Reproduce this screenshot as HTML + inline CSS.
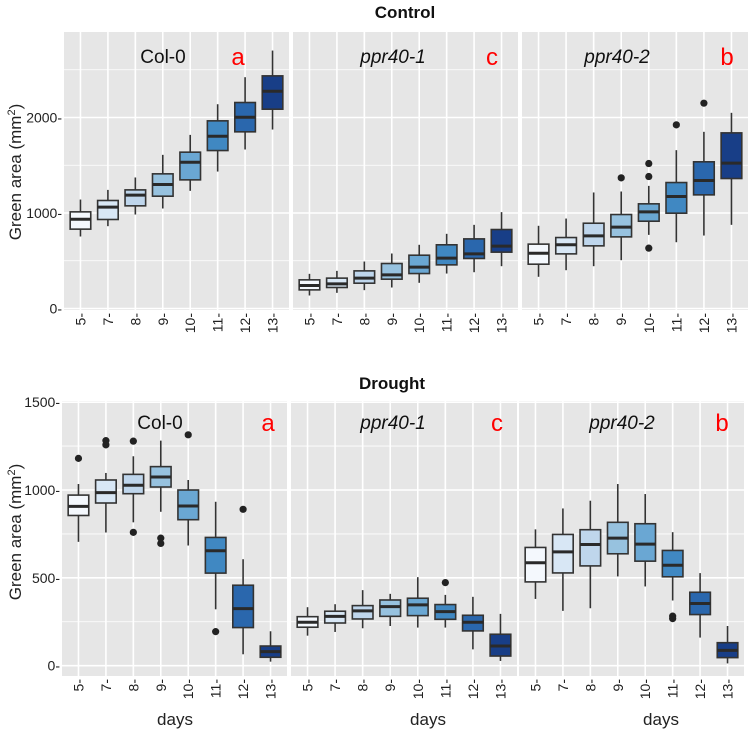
<!DOCTYPE html>
<html><head><meta charset="utf-8"><style>
html,body{margin:0;padding:0;background:#fff;}
svg{display:block;font-family:"Liberation Sans",Arial,sans-serif;}
</style></head><body>
<svg id="chart" width="749" height="732" viewBox="0 0 749 732" xmlns="http://www.w3.org/2000/svg"></svg>
<script>
// ---- data ----
const days = ['5','7','8','9','10','11','12','13'];
// each entry: [lower whisker, Q1, median, Q3, upper whisker]
const ctrlCol0 = [[754,831,935,1012,1141],[862,932,1061,1131,1242],[984,1075,1187,1242,1372],[1047,1176,1298,1410,1609],[1232,1347,1532,1637,1818],[1434,1654,1804,1965,2139],[1665,1850,2003,2157,2422],[1874,2087,2275,2436,2701]];
const ctrlP1 = [[136,195,241,300,363],[164,220,258,318,394],[192,265,318,394,492],[220,307,352,471,576],[269,366,433,558,667],[366,457,527,667,782],[380,524,572,729,876],[443,590,653,827,1009]];
const ctrlP2 = [[332,464,579,674,866],[401,572,667,743,942],[443,656,761,893,1215],[506,750,852,984,1225],[771,914,1012,1096,1284],[694,998,1173,1319,1658],[764,1190,1340,1536,1850],[876,1361,1522,1839,2049]];
const drCol0 = [[705,855,907,971,1034],[758,926,985,1057,1097],[816,979,1027,1089,1192],[876,1017,1074,1133,1281],[684,831,909,1000,1057],[321,527,654,730,933],[65,217,325,458,606],[23,48,80,112,196]];
const drP1 = [[171,219,247,279,333],[192,243,281,310,350],[213,266,312,342,430],[226,281,336,374,409],[217,285,346,384,504],[217,264,308,348,403],[93,198,247,287,392],[27,55,112,179,295]];
const drP2 = [[380,477,586,673,776],[312,528,648,747,895],[327,568,690,774,939],[508,637,726,816,1034],[451,595,692,808,977],[371,506,572,656,760],[160,291,354,418,527],[13,46,87,131,226]];
// outliers: [dayIndex, value]
const ctrlCol0Out = [];
const ctrlP1Out = [];
const ctrlP2Out = [[3,1368],[4,1518],[4,1382],[4,632],[5,1923],[6,2150]];
const drCol0Out = [[0,1180],[1,1281],[1,1257],[2,1278],[2,759],[3,726],[3,696],[4,1314],[5,194],[6,890]];
const drP1Out = [[5,473]];
const drP2Out = [[5,282],[5,268]];
const ctrlTicks = [0,1000,2000];
const ctrlMinor = [500,1500,2500];
const drTicks = [0,500,1000,1500];
const drMinor = [250,750,1250];
const fills = ['#f4f8fd','#d8e7f5','#bfd6ec','#97c2df','#6aa7d3','#4088c2','#2a67ad','#183e87'];

const NS='http://www.w3.org/2000/svg';
const svg=document.getElementById('chart');
function mk(tag,attrs,parent){const e=document.createElementNS(NS,tag);for(const k in attrs)e.setAttribute(k,attrs[k]);(parent||svg).appendChild(e);return e;}

function txt(s,attrs,name,parent){const t=mk('text',attrs,parent);t.textContent=s;


return t;}

function panel(cfg){
  const g=mk('g',{});
  
  
  const {x0,x1,yTop,yBot,zeroY,scale}=cfg;
  const yS=v=>zeroY-v*scale;
  const n=days.length, step=(x1-x0)/(n+0.2);
  const xS=i=>x0+step*(0.6+i);
  const bg=mk('rect',{x:x0,y:yTop,width:x1-x0,height:yBot-yTop,fill:'#e6e6e6'},g);
  
  
  cfg.minor.forEach(v=>{const l=mk('line',{x1:x0,x2:x1,y1:yS(v),y2:yS(v),stroke:'#fff','stroke-width':0.8},g);
    
    });
  cfg.ticks.forEach(v=>{const l=mk('line',{x1:x0,x2:x1,y1:yS(v),y2:yS(v),stroke:'#fff','stroke-width':1.6},g);
    
    });
  days.forEach((d,i)=>{const l=mk('line',{x1:xS(i),x2:xS(i),y1:yTop,y2:yBot,stroke:'#fff','stroke-width':1.6},g);
    
    
    const tx=xS(i)+5, ty=yBot+3;
    txt(d+'-',{x:tx,y:ty,'font-size':14,fill:'#222','text-anchor':'end',transform:`rotate(-90 ${tx} ${ty})`},'x-tick-label',g);
  });
  if(cfg.yLabels){cfg.ticks.forEach(v=>{txt(v+'-',{x:x0-2,y:yS(v)+5,'font-size':14,fill:'#222','text-anchor':'end'},'y-tick-label',g);});}
  const bw=step*0.75;
  cfg.data.forEach((s,i)=>{
    const bx=mk('g',{},g);
    
    
    const cx=xS(i);
    mk('line',{x1:cx,x2:cx,y1:yS(s[4]),y2:yS(s[3]),stroke:'#333','stroke-width':1.6},bx);
    mk('line',{x1:cx,x2:cx,y1:yS(s[1]),y2:yS(s[0]),stroke:'#333','stroke-width':1.6},bx);
    mk('rect',{x:cx-bw/2,y:yS(s[3]),width:bw,height:yS(s[1])-yS(s[3]),fill:fills[i],stroke:'#333','stroke-width':1.6},bx);
    mk('line',{x1:cx-bw/2,x2:cx+bw/2,y1:yS(s[2]),y2:yS(s[2]),stroke:'#2a2a2a','stroke-width':3},bx);
  });
  cfg.out.forEach(o=>{const c=mk('circle',{cx:xS(o[0]),cy:yS(o[1]),r:3.6,fill:'#222'},g);
    
    });
  txt(cfg.label,{x:cfg.lx,y:cfg.ly,'font-size':19,fill:'#111','text-anchor':'middle','font-style':cfg.italic?'italic':'normal'},'panel-genotype-label',g);
  txt(cfg.letter,{x:cfg.ax,y:cfg.ly+2,'font-size':24,fill:'#f00','text-anchor':'middle'},'significance-letter',g);
}

// Control row
const cT={yTop:32,yBot:310,zeroY:308.5,scale:0.0955,ticks:ctrlTicks,minor:ctrlMinor,ly:63};
panel({...cT,name:'control-col0-panel',x0:64,x1:289,data:ctrlCol0,out:ctrlCol0Out,label:'Col-0',italic:false,lx:163,letter:'a',ax:238,yLabels:true});
panel({...cT,name:'control-ppr40-1-panel',x0:293,x1:518,data:ctrlP1,out:ctrlP1Out,label:'ppr40-1',italic:true,lx:393,letter:'c',ax:492});
panel({...cT,name:'control-ppr40-2-panel',x0:522,x1:748,data:ctrlP2,out:ctrlP2Out,label:'ppr40-2',italic:true,lx:617,letter:'b',ax:727});
// Drought row
const dT={yTop:401,yBot:676,zeroY:665.7,scale:0.1757,ticks:drTicks,minor:drMinor,ly:429};
panel({...dT,name:'drought-col0-panel',x0:62,x1:287,data:drCol0,out:drCol0Out,label:'Col-0',italic:false,lx:160,letter:'a',ax:268,yLabels:true});
panel({...dT,name:'drought-ppr40-1-panel',x0:291,x1:517,data:drP1,out:drP1Out,label:'ppr40-1',italic:true,lx:393,letter:'c',ax:497});
panel({...dT,name:'drought-ppr40-2-panel',x0:519,x1:744,data:drP2,out:drP2Out,label:'ppr40-2',italic:true,lx:622,letter:'b',ax:722});

// Titles
txt('Control',{x:405,y:18,'font-size':17,'font-weight':'bold',fill:'#111','text-anchor':'middle'},'control-title');
txt('Drought',{x:392,y:389,'font-size':17,'font-weight':'bold',fill:'#111','text-anchor':'middle'},'drought-title');
// y axis titles
function ytitle(cy,name){const t=txt('',{x:21,y:cy,'font-size':17,fill:'#222','text-anchor':'middle',transform:`rotate(-90 21 ${cy})`},name);
  t.textContent='Green area (mm';const s=mk('tspan',{'font-size':11,dy:-6},t);s.textContent='2';const s2=mk('tspan',{dy:6},t);s2.textContent=')';}
ytitle(172,'control-y-axis-title');
ytitle(532,'drought-y-axis-title');
// x axis titles
[175,428,661].forEach(x=>txt('days',{x:x,y:725,'font-size':17,fill:'#222','text-anchor':'middle'},'x-axis-title'));
</script>
</body></html>
